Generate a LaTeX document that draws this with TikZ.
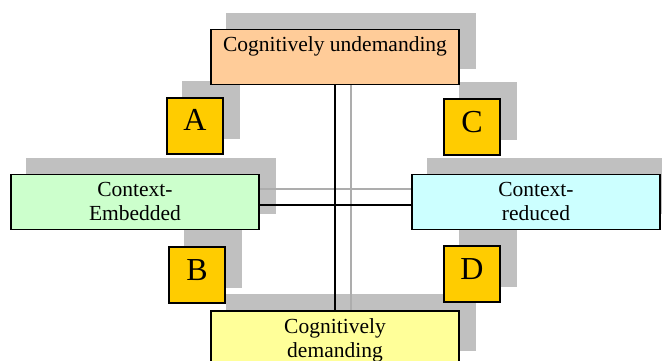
\documentclass[tikz,border=0pt]{standalone}
\usepackage{fontspec}
\setmainfont{Liberation Serif}
\usetikzlibrary{positioning}

\definecolor{peach}{HTML}{FFCC99}
\definecolor{mint}{HTML}{CCFFCC}
\definecolor{paleaqua}{HTML}{CCFFFF}
\definecolor{paleyellow}{HTML}{FFFF99}
\definecolor{gold}{HTML}{FFCC00}
\definecolor{shadowgray}{HTML}{C0C0C0}

\pgfdeclarelayer{shadow}
\pgfdeclarelayer{lines}
\pgfsetlayers{shadow,lines,main}

\begin{document}
\begin{tikzpicture}[
                x=1pt, y=-1pt,
                bigbox/.style={
                    draw=black,
                    line width=1.5pt,
                    rectangle,
                    minimum width=248pt,
                    minimum height=55pt,
                    inner sep=0pt
                },
                boxtext/.style={
                    anchor=north,
                    align=center,
                    inner sep=0pt,
                    yshift=-8pt,
                    font=\fontsize{21.5}{24.5}\selectfont
                },
                letterbox/.style={
                    draw=black,
                    line width=1.5pt,
                    fill=gold,
                    rectangle,
                    minimum size=56pt,
                    inner sep=0pt,
                    text height=30pt,
                    text depth=20pt,
                    font=\fontsize{32}{36}\selectfont
                },
                shadowfill/.style={
                    fill=shadowgray
                },
                shadowline/.style={
                    draw=shadowgray!90!black,
                    line width=1.2pt
                },
                link/.style={
                    draw=black,
                    line width=1.2pt
                }
            ]

                \useasboundingbox (0,0) rectangle (662,361);

                % the four quadrant boxes
                \node[bigbox, fill=peach] (undem) at (335,57) {};
                \node[bigbox, fill=mint] (embed) at (135,202) {};
                \node[bigbox, fill=paleaqua] (reduced) at (536,202) {};
                \node[bigbox, fill=paleyellow] (dem) at (335,338.5) {};

                \node[boxtext] (undemtext) at (undem.north) {Cognitively undemanding};
                \node[boxtext] (embedtext) at (embed.north) {Context-\\Embedded};
                \node[boxtext] (reducedtext) at (reduced.north) {Context-\\reduced};
                \node[boxtext] (demtext) at (dem.north) {Cognitively\\demanding};

                % quadrant letters
                \node[letterbox] (qa) at (195,126) {A};
                \node[letterbox] (qc) at (472,127) {C};
                \node[letterbox] (qb) at (197,275) {B};
                \node[letterbox] (qd) at (472,274) {D};

                \begin{pgfonlayer}{shadow}
                    \foreach \n in {undem,embed,reduced,dem,qa,qb,qc,qd}
                        \fill[shadowfill] ([shift={(16pt,16pt)}]\n.south west) rectangle ([shift={(16pt,16pt)}]\n.north east);
                \end{pgfonlayer}

                \begin{pgfonlayer}{lines}
                    \draw[shadowline] ([xshift=16pt]undem.south) -- ([xshift=16pt]dem.north);
                    \draw[shadowline] ([yshift=13pt]embed.east) -- ([yshift=13pt]reduced.west);
                    \draw[link] (undem.south) -- (dem.north);
                    \draw[link] ([yshift=-3pt]embed.east) -- ([yshift=-3pt]reduced.west);
                \end{pgfonlayer}
        \end{tikzpicture}
\end{document}
